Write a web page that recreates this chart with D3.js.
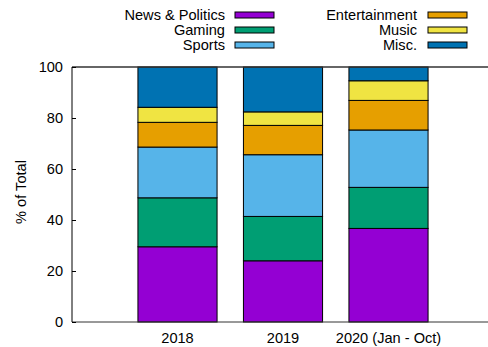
<!DOCTYPE html>
<html>
<head>
<meta charset="utf-8">
<script src="https://d3js.org/d3.v7.min.js"></script>
<style>
  body { margin: 0; background: #fff; }
  text { font-family: "Liberation Sans", Arial, sans-serif; font-size: 14.6px; fill: #000; }
  .yAxis .domain { display: none; }
</style>
</head>
<body>
<svg width="488" height="347"></svg>
<script>
var years = ["2018", "2019", "2020 (Jan - Oct)"];
var categories = ["News & Politics", "Gaming", "Sports", "Entertainment", "Music", "Misc."];
var colors = ["#9400d3", "#009e73", "#56b4e9", "#e69f00", "#f0e442", "#0072b2"];

var newsPolitics = [29.5, 24.0, 36.7];
var gaming = [19.2, 17.4, 16.1];
var sports = [19.9, 24.2, 22.5];
var entertainment = [9.7, 11.5, 11.6];
var music = [5.9, 5.3, 7.7];
var misc = [15.8, 17.6, 5.4];

var yTicks = [0, 20, 40, 60, 80, 100];

var series = [newsPolitics, gaming, sports, entertainment, music, misc];
var rows = years.map(function(yr, i) {
  var r = {year: yr, idx: i};
  categories.forEach(function(c, j) { r[c] = series[j][i]; });
  return r;
});

var plotLeft = 72, plotTop = 67, plotBottom = 322, plotRight = 488;

var x = d3.scaleLinear().domain([-1, 3]).range([plotLeft, 494]);
var y = d3.scaleLinear().domain([0, 100]).range([plotBottom, plotTop]);
var color = d3.scaleOrdinal().domain(categories).range(colors);

var svg = d3.select("svg");

var stack = d3.stack().keys(categories)(rows);
var barW = 0.75;

svg.append("g").selectAll("g")
  .data(stack).enter().append("g")
  .attr("fill", function(d) { return color(d.key); })
  .selectAll("rect")
  .data(function(d) { return d; }).enter().append("rect")
  .attr("x", function(d) { return x(d.data.idx - barW / 2); })
  .attr("width", function(d) { return x(barW) - x(0); })
  .attr("y", function(d) { return y(d[1]); })
  .attr("height", function(d) { return y(d[0]) - y(d[1]); })
  .attr("stroke", "#000")
  .attr("stroke-width", 1);

// border (no right side, it runs off the page)
svg.append("line").attr("x1", plotLeft).attr("x2", plotRight).attr("y1", plotTop).attr("y2", plotTop)
  .attr("stroke", "#333").attr("stroke-width", 1.5);
svg.append("line").attr("x1", plotLeft).attr("x2", plotRight).attr("y1", plotBottom).attr("y2", plotBottom)
  .attr("stroke", "#333").attr("stroke-width", 1);
svg.append("line").attr("x1", plotLeft).attr("x2", plotLeft).attr("y1", plotTop).attr("y2", plotBottom)
  .attr("stroke", "#000").attr("stroke-width", 1);

// y axis
var yAxis = d3.axisLeft(y).tickValues(yTicks).tickSize(-4).tickPadding(9);
svg.append("g").attr("class", "yAxis")
  .attr("transform", "translate(" + plotLeft + ",0)")
  .call(yAxis)
  .call(function(g) {
    g.selectAll("text").attr("font-family", null).attr("font-size", null);
    g.selectAll("line").attr("stroke", "#000");
  });

// x labels
svg.append("g").selectAll("text")
  .data(years).enter().append("text")
  .attr("x", function(d, i) { return x(i); })
  .attr("y", 343)
  .attr("text-anchor", "middle")
  .text(function(d) { return d; });

// y title
svg.append("text")
  .attr("transform", "translate(26,192) rotate(-90)")
  .attr("text-anchor", "middle")
  .text("% of Total");

// legend
var legendCols = [{textX: 225, swX: 235}, {textX: 417, swX: 428}];
var legend = svg.append("g").selectAll("g")
  .data(categories).enter().append("g")
  .attr("transform", function(d, i) {
    return "translate(0," + (15 + (i % 3) * 15) + ")";
  });
legend.append("text")
  .attr("x", function(d, i) { return legendCols[Math.floor(i / 3)].textX; })
  .attr("y", 0)
  .attr("dy", "0.35em")
  .attr("text-anchor", "end")
  .text(function(d) { return d; });
legend.append("rect")
  .attr("x", function(d, i) { return legendCols[Math.floor(i / 3)].swX; })
  .attr("y", -3)
  .attr("width", 39)
  .attr("height", 6)
  .attr("fill", function(d) { return color(d); })
  .attr("stroke", "#000")
  .attr("stroke-width", 1);
</script>
</body>
</html>
